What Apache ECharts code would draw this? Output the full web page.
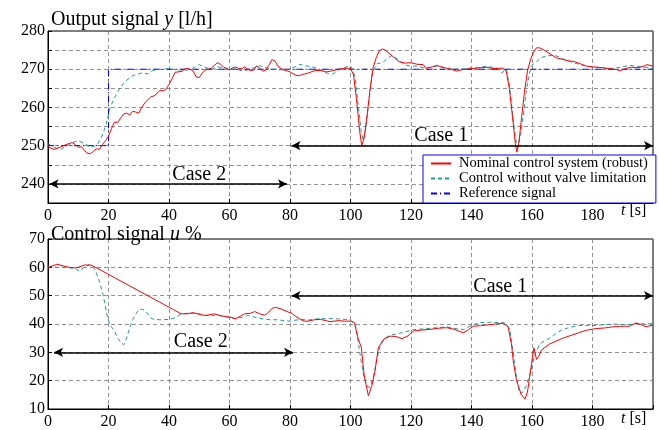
<!DOCTYPE html>
<html>
<head>
<meta charset="utf-8">
<script src="https://cdn.jsdelivr.net/npm/echarts@6/dist/echarts.min.js"></script>
<style>
  html, body { margin: 0; padding: 0; background: #fff; }
  #chart { width: 659px; height: 430px; }
</style>
</head>
<body>
<div id="chart"></div>
<script>
var xTicks = [0, 20, 40, 60, 80, 100, 120, 140, 160, 180, 200];
var legendNames = ['Nominal control system (robust)', 'Control without valve limitation', 'Reference signal'];

// output signal y [l/h], pairs of [t, y]
var yNominal = [[0,249.8],[1,249.3],[2,249.0],[4,249.6],[6,250.3],[8,250.8],[9,250.3],[10,249.5],[11,249.8],[12,248.8],[13,248.0],[14,247.9],[15,248.5],[16,249.2],[17,249.0],[18,250.3],[19,251.3],[20,252.5],[21,254.5],[22,256.2],[23,256.0],[24,257.2],[25,258.3],[26,258.5],[27,258.0],[28,259.0],[29,258.8],[30,258.5],[31,260.0],[32,261.2],[33,262.0],[34,262.8],[35,263.0],[36,263.6],[37,264.5],[38,264.3],[39,264.8],[40,266.0],[41,267.5],[42,269.2],[43,269.3],[44,269.4],[45,270.0],[46,270.2],[47,270.0],[48,269.5],[49,268.0],[50,267.8],[51,269.0],[52,269.8],[53,270.0],[54,270.3],[55,271.0],[56,271.7],[57,271.3],[58,270.6],[59,270.2],[60,269.8],[61,270.4],[62,270.6],[63,270.2],[64,270.1],[65,270.6],[66,270.0],[67,269.6],[68,269.8],[69,270.9],[70,270.2],[71,269.5],[72,269.8],[73,271.0],[74,272.5],[75,272.2],[76,270.8],[77,270.2],[78,269.8],[79,269.6],[80,269.3],[81,268.8],[82,268.4],[83,268.3],[84,268.6],[86,269.0],[88,269.6],[90,269.7],[92,269.3],[94,269.6],[96,270.0],[98,270.2],[100,270.3],[101,268.5],[102,262],[103,254],[103.7,250],[104.5,252],[105.5,258],[106.5,265],[107.5,270.5],[108.5,273],[109.5,274.8],[110.5,275.3],[111.5,275.0],[113,274],[114.5,273],[116,272.0],[118,271.6],[120,271.7],[122,271.3],[124,271.2],[125,270.2],[127,270.6],[128.5,271.0],[130,270.6],[132,270.2],[134,269.8],[135,269.5],[137,269.9],[139,270.1],[141,270.2],[143,270.4],[145,270.5],[147,270.2],[149,270.2],[150.5,270.3],[151.5,269.5],[152.5,265],[153.5,258],[154.5,250.5],[155,248.3],[155.7,251],[156.5,257],[157.5,264],[158.5,269.5],[159.5,272.5],[160.5,274.5],[161.5,275.6],[162.5,275.6],[164,275],[166,274],[168,273],[170,272.6],[172,272.2],[174,272],[176,271.4],[178,270.8],[180,270.6],[182,270.5],[184,270.3],[186,270.1],[188,269.9],[189,269.6],[191,270.2],[193,270.5],[195,270.4],[197,270.8],[198,271.2],[200,270.8]];

var yNoLimit = [[0,250.5],[2,249.6],[4,249.0],[6,249.8],[8,250.8],[10,251.3],[12,250.6],[14,249.6],[16,250.0],[17.5,251.8],[19,255],[20.6,260.2],[22,262.5],[23.8,265.1],[25.5,266.8],[27.8,268.2],[29,268.6],[31,269.0],[33,268.8],[34.5,269.6],[36,269.9],[38,270.0],[40,270.2],[42,269.9],[44,269.4],[46,269.8],[48,270.3],[50,271.2],[52,270.5],[54,270.0],[56,270.6],[58,270.4],[60,269.9],[62,270.1],[64,269.6],[66,269.8],[68,270.4],[70,270.9],[72,270.4],[74,270.0],[76,269.9],[78,269.8],[80,270.1],[82,270.7],[83.3,271.3],[85,270.9],[88,270.5],[90,269.8],[92,269.0],[94,268.7],[96.5,270.0],[99.3,270.8],[100.5,270.4],[101.5,268],[102.5,261],[103.5,254],[104.2,251.3],[105,254],[106,261],[107.3,269.5],[108.9,271.5],[110,271.6],[111,272],[112.5,273],[113.7,273.6],[115,273],[116.4,272],[118.6,271],[120,270.8],[121.9,270.8],[124,270.4],[126.3,270.5],[128.5,270.8],[130.7,270.5],[133,270.2],[136,270.0],[139.5,270.3],[142,270.4],[145,270.8],[148.3,270.3],[150,269.0],[151.5,270],[152.5,266],[153.5,259],[154.5,252],[155.3,249.5],[156.3,253],[157.3,259],[158.2,265],[159.2,269],[159.9,271],[161.5,272],[163,273],[164.8,273.5],[166.5,273.6],[168.1,273.5],[170,272.8],[172.5,272],[175,271.4],[176.9,271],[179,270.7],[181.3,270.5],[184,270.3],[186.8,270.2],[189,270.5],[192.3,271],[195,270.7],[197.8,270.5],[200,270.1]];

var yReference = [[0,250],[20,250],[20,270],[200,270]];

// control signal u %, pairs of [t, u]
var uNominal = [[0,59.6],[1,60.3],[3,61.1],[5,60.5],[7,60.0],[9,59.8],[10,60.0],[12,60.8],[14,60.8],[15,60.4],[44,43.6],[46,43.6],[48,44.0],[50,43.4],[52,43.0],[54,43.4],[55,43.6],[57,42.9],[59,42.6],[61,42.2],[62,41.8],[64,43.0],[65,43.6],[67,43.8],[68.3,44.4],[70,43.6],[71.6,43.1],[73,44.2],[74,45.5],[75.2,45.9],[77,45.3],[79,44.4],[80.5,43.8],[82,42.6],[83.5,41.6],[84.7,41.0],[86,41.0],[88,41.5],[90,41.6],[92,41.2],[93.2,40.8],[96,41.2],[98,41.0],[100,41.0],[101.3,40.5],[102.5,35],[103.6,31.6],[104.5,22],[105.9,14.7],[107,18],[108.1,23.4],[109.2,31.6],[110.9,34.6],[113.1,35.7],[115,35.6],[117,34.8],[119,35.8],[120.8,37.5],[123,37.8],[126.3,38.1],[129,38.5],[131.8,38.7],[134,38.2],[137.3,36.9],[139,38],[140.6,39.2],[143,39.4],[146.1,39.8],[148,40.0],[150.5,40.3],[152.1,39.0],[153.2,33],[153.8,27],[154.9,20],[156.5,15],[157.7,13.5],[158.5,16],[159.3,22],[160,27],[160.6,31.6],[161.5,27.5],[162.2,28.5],[163.1,30.8],[165.9,33],[170.2,35],[175.7,37],[178,37.8],[181.2,38.4],[184,38.6],[186.7,39],[189,39.2],[192.2,39.2],[194.4,40.4],[196,39.8],[197.7,39.0],[199,39.4],[200,39.5]];

var uNoLimit = [[0,60.5],[3,60.0],[6,60.0],[8,59.7],[9.5,59.2],[10.6,58.5],[12,60.3],[13.8,61.0],[15,60.2],[16,58.0],[17,55],[18.2,50.4],[19,46],[19.8,41.6],[21,39],[22,37.5],[23,35],[24.2,33.4],[25,32.6],[26,35],[27,38.7],[28,41.5],[29,43.5],[30,45.0],[31,45.2],[32,44.8],[33,43.5],[33.8,42.2],[35,41.6],[37,41.5],[40,41.6],[42,42.2],[44,43.5],[46,43.8],[48,43.8],[50,43.6],[52,43.0],[54,43.0],[56,43.2],[58,42.8],[60,42.2],[62,42.0],[64,42.3],[66,43.0],[68,42.5],[70,42.0],[72,41.6],[74,41.5],[76,41.5],[78,41.2],[80,41.0],[82,41.4],[84,41.6],[86,41.4],[88,41.6],[90,42.0],[92,41.8],[93.2,41.9],[96,41.8],[99.8,41.5],[101.5,40.0],[102.5,34],[103.5,27],[104.5,21],[105.5,18],[106.4,17.6],[107.5,21],[108.6,27],[109.7,32],[111.4,35],[113,36],[115.3,36.5],[118,37.2],[120.8,38],[123,38.2],[126.3,38.5],[129,38.7],[131.8,39],[134,38.5],[137.3,38],[140,39.5],[142.8,40.5],[146,40.6],[150.5,40.5],[151.5,40],[152.7,38],[153.5,32],[154.5,24],[155.3,18],[156.1,15.3],[157,16],[158,18],[159.3,22],[160.9,29],[162.6,33],[164,34],[165.9,35],[168,36.8],[170.2,38.1],[172.5,38.8],[175.7,39.5],[178,39.4],[181.2,39.5],[184,39.8],[186.7,40],[189,39.8],[192.2,39.8],[195,40.2],[197.7,40],[200,40.1]];

// case arrows: [from t, to t, level], text: [t, level, text]
var yCaseArrows = [[0.5, 79, 240], [80.5, 200, 250]];
var yCaseText = [[50, 242.3, 'Case 2'], [130, 252.5, 'Case 1']];
var uCaseArrows = [[2, 81, 30], [80.5, 200, 50]];
var uCaseText = [[50.5, 33.6, 'Case 2'], [149.5, 53.2, 'Case 1']];

var serif = 'Liberation Serif';

var myChart = echarts.init(document.getElementById('chart'));

// tick labels drawn through rich text so the serif face is used
var tickRich = { s: { fontFamily: serif, fontSize: 16, color: '#000' } };

function xAxisFor(gridIndex) {
    return {
        type: 'value', gridIndex: gridIndex, min: 0, max: 200, interval: 20,
        axisLine: { show: true, onZero: false, lineStyle: { color: '#000', width: 1 } },
        axisTick: { show: true, inside: true, length: 4, lineStyle: { color: '#000' } },
        axisLabel: {
            color: '#000', fontFamily: serif, fontSize: 16, margin: 5, rich: tickRich,
            formatter: function(v) { return v === 200 ? '' : '{s|' + v + '}'; }
        },
        splitLine: { show: true, lineStyle: { color: '#777', type: [4, 3], width: 0.8 } }
    };
}

function yAxisFor(gridIndex, min, max, interval) {
    return {
        type: 'value', gridIndex: gridIndex, min: min, max: max, interval: interval,
        axisLine: { show: true, lineStyle: { color: '#000', width: 1 } },
        axisTick: { show: true, inside: true, length: 4, lineStyle: { color: '#000' } },
        axisLabel: {
            color: '#000', fontFamily: serif, fontSize: 16, margin: 3, rich: tickRich,
            formatter: function(v) { return v % 10 === 0 ? '{s|' + v + '}' : ''; }
        },
        splitLine: { show: true, lineStyle: { color: '#777', type: [4, 3], width: 0.8 } }
    };
}

function caseMarks(arrows, texts) {
    return {
        markLine: {
            silent: true, symbol: ['arrow', 'arrow'], symbolSize: [7, 9],
            label: { show: false },
            lineStyle: { color: '#000', width: 1.6, type: 'solid' },
            data: arrows.map(function(a) { return [{ coord: [a[0], a[2]] }, { coord: [a[1], a[2]] }]; })
        },
        markPoint: {
            silent: true, symbol: 'rect', symbolSize: 1,
            itemStyle: { color: 'rgba(0,0,0,0)' },
            label: { show: true, position: 'inside', formatter: '{b}', color: '#000', fontFamily: serif, fontSize: 20 },
            data: texts.map(function(t) { return { name: t[2], coord: [t[0], t[1]] }; })
        }
    };
}

function lineSeries(name, data, xi, color, type, extra) {
    var s = {
        name: name, type: 'line', xAxisIndex: xi, yAxisIndex: xi, data: data,
        showSymbol: false, symbol: 'none', animation: false,
        lineStyle: { color: color, width: 1, type: type },
        itemStyle: { color: color }
    };
    if (extra) {
        s.markLine = extra.markLine;
        s.markPoint = extra.markPoint;
    }
    return s;
}

var titleRich = {
    n: { fontFamily: serif, fontSize: 20, fontWeight: 'normal', color: '#000' },
    i: { fontFamily: serif, fontSize: 20, fontWeight: 'normal', fontStyle: 'italic', color: '#000' }
};

var option = {
    backgroundColor: '#fff',
    animation: false,
    textStyle: { fontFamily: serif },
    title: [
        {
            text: '{n|Output signal }{i|y}{n| [l/h]}', left: 46, top: 5,
            textStyle: { fontWeight: 'normal', rich: titleRich }
        },
        {
            text: '{n|Control signal }{i|u}{n| %}', left: 46, top: 220,
            textStyle: { fontWeight: 'normal', rich: titleRich }
        }
    ],
    legend: {
        data: legendNames,
        orient: 'vertical', left: 423, top: 155,
        itemWidth: 20, itemHeight: 10, itemGap: 0,
        padding: [1, 8, 2, 7],
        itemStyle: { opacity: 0 },
        backgroundColor: '#fff', borderColor: '#0000ff', borderWidth: 1,
        textStyle: { fontFamily: serif, fontSize: 14.5, color: '#000', lineHeight: 13, padding: [0, 0, 0, 3] }
    },
    grid: [
        { left: 48, right: 6, top: 31, height: 172, show: true, borderColor: '#000', borderWidth: 1, backgroundColor: 'transparent' },
        { left: 48, right: 6, top: 239, height: 171, show: true, borderColor: '#000', borderWidth: 1, backgroundColor: 'transparent' }
    ],
    xAxis: [xAxisFor(0), xAxisFor(1)],
    yAxis: [yAxisFor(0, 235, 280, 5), yAxisFor(1, 10, 70, 10)],
    graphic: [
        {
            type: 'text', left: 621, top: 203,
            style: { text: '{i|t} [s]', rich: { i: { fontStyle: 'italic', fontFamily: serif, fontSize: 16 } }, fontFamily: serif, fontSize: 16, fill: '#000' }
        },
        {
            type: 'text', left: 621, top: 411,
            style: { text: '{i|t} [s]', rich: { i: { fontStyle: 'italic', fontFamily: serif, fontSize: 16 } }, fontFamily: serif, fontSize: 16, fill: '#000' }
        }
    ],
    series: [
        lineSeries(legendNames[2], yReference, 0, '#0000ff', [6, 3, 1, 3], caseMarks(yCaseArrows, yCaseText)),
        lineSeries(legendNames[1], yNoLimit, 0, '#229999', [4, 3]),
        lineSeries(legendNames[0], yNominal, 0, '#ff0000', 'solid'),
        lineSeries(legendNames[1], uNoLimit, 1, '#229999', [4, 3], caseMarks(uCaseArrows, uCaseText)),
        lineSeries(legendNames[0], uNominal, 1, '#ff0000', 'solid')
    ]
};

myChart.setOption(option);
</script>
</body>
</html>
